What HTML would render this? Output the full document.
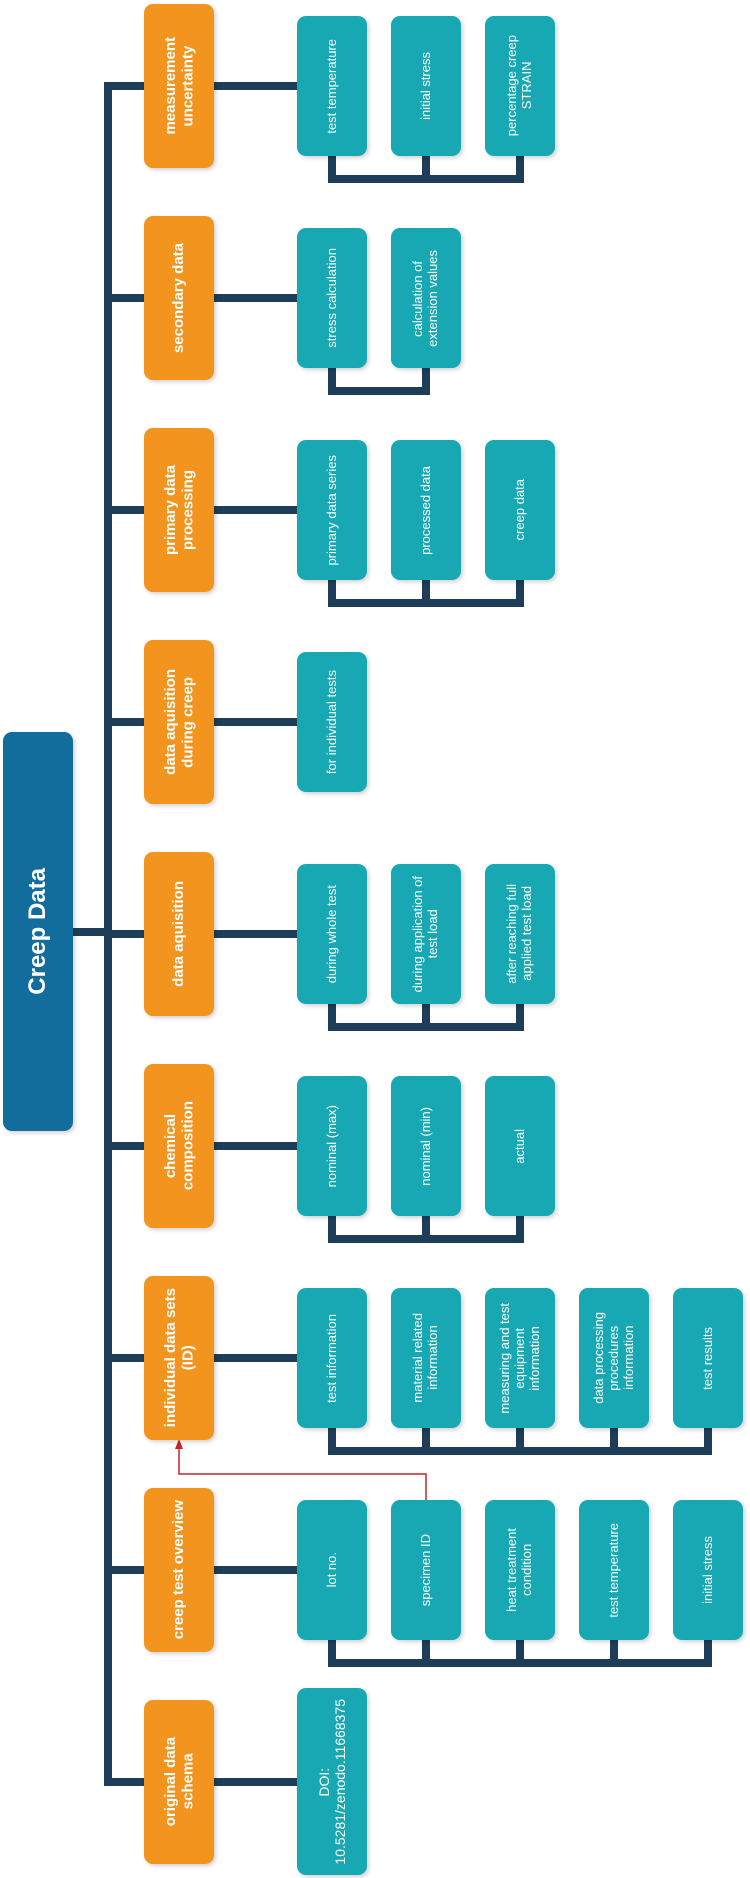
<!DOCTYPE html>
<html><head><meta charset="utf-8"><style>
body{margin:0;width:750px;height:1878px;position:relative;background:#fff;overflow:hidden;font-family:"Liberation Sans",Arial,sans-serif}
.b{position:absolute;display:flex;align-items:center;justify-content:center;color:#fff;border-radius:9px;box-shadow:2px 2px 4px rgba(0,0,0,.18)}
.b span{writing-mode:vertical-rl;transform:rotate(180deg);text-align:center;line-height:1.15}
.o{left:144px;width:70px;height:164px;background:#f3941f;font-weight:bold;font-size:15px}
.t{width:70px;height:140px;background:#17a8b4;font-size:13px}
.c1{left:297px}.c2{left:391px}.c3{left:485px}.c4{left:579px}.c5{left:673px}
</style></head><body>
<svg width="750" height="1878" style="position:absolute;left:0;top:0">
<g stroke="#1e3d59" stroke-width="8" fill="none">
<line x1="108" y1="82" x2="108" y2="1786"/>
<line x1="73" y1="932" x2="108" y2="932"/>
<!-- row connectors -->
<path d="M104 86H144M214 86H297"/>
<path d="M104 298H144M214 298H297"/>
<path d="M104 510H144M214 510H297"/>
<path d="M104 722H144M214 722H297"/>
<path d="M104 934H144M214 934H297"/>
<path d="M104 1146H144M214 1146H297"/>
<path d="M104 1358H144M214 1358H297"/>
<path d="M104 1570H144M214 1570H297"/>
<path d="M104 1782H144M214 1782H297"/>
<!-- buses -->
<path d="M332 152V179M426 152V179M520 152V179M328 179H524"/>
<path d="M332 364V391M426 364V391M328 391H430"/>
<path d="M332 576V603M426 576V603M520 576V603M328 603H524"/>
<path d="M332 1000V1027M426 1000V1027M520 1000V1027M328 1027H524"/>
<path d="M332 1212V1239M426 1212V1239M520 1212V1239M328 1239H524"/>
<path d="M332 1424V1451M426 1424V1451M520 1424V1451M614 1424V1451M708 1424V1451M328 1451H712"/>
<path d="M332 1636V1663M426 1636V1663M520 1636V1663M614 1636V1663M708 1636V1663M328 1663H712"/>
</g>
<path d="M426 1500V1474H179V1446" stroke="#c0282d" stroke-width="1.5" fill="none"/>
<polygon points="179,1439 175,1449 183,1449" fill="#d01f25"/>
</svg>

<div class="b" style="left:3px;top:732px;width:70px;height:399px;background:#136d9c;font-weight:bold;font-size:24px"><span>Creep Data</span></div>

<div class="b o" style="top:4px"><span>measurement<br>uncertainty</span></div>
<div class="b t c1" style="top:16px"><span>test temperature</span></div>
<div class="b t c2" style="top:16px"><span>initial stress</span></div>
<div class="b t c3" style="top:16px"><span>percentage creep<br>STRAIN</span></div>

<div class="b o" style="top:216px"><span>secondary data</span></div>
<div class="b t c1" style="top:228px"><span>stress calculation</span></div>
<div class="b t c2" style="top:228px"><span>calculation of<br>extension values</span></div>

<div class="b o" style="top:428px"><span>primary data<br>processing</span></div>
<div class="b t c1" style="top:440px"><span>primary data series</span></div>
<div class="b t c2" style="top:440px"><span>processed data</span></div>
<div class="b t c3" style="top:440px"><span>creep data</span></div>

<div class="b o" style="top:640px"><span>data aquisition<br>during creep</span></div>
<div class="b t c1" style="top:652px"><span>for individual tests</span></div>

<div class="b o" style="top:852px"><span>data aquisition</span></div>
<div class="b t c1" style="top:864px"><span>during whole test</span></div>
<div class="b t c2" style="top:864px"><span>during application of<br>test load</span></div>
<div class="b t c3" style="top:864px"><span>after reaching full<br>applied test load</span></div>

<div class="b o" style="top:1064px"><span>chemical<br>composition</span></div>
<div class="b t c1" style="top:1076px"><span>nominal (max)</span></div>
<div class="b t c2" style="top:1076px"><span>nominal (min)</span></div>
<div class="b t c3" style="top:1076px"><span>actual</span></div>

<div class="b o" style="top:1276px"><span>individual data sets<br>(ID)</span></div>
<div class="b t c1" style="top:1288px"><span>test information</span></div>
<div class="b t c2" style="top:1288px"><span>material related<br>information</span></div>
<div class="b t c3" style="top:1288px"><span>measuring and test<br>equipment<br>information</span></div>
<div class="b t c4" style="top:1288px"><span>data processing<br>procedures<br>information</span></div>
<div class="b t c5" style="top:1288px"><span>test results</span></div>

<div class="b o" style="top:1488px"><span>creep test overview</span></div>
<div class="b t c1" style="top:1500px"><span>lot no.</span></div>
<div class="b t c2" style="top:1500px"><span>specimen ID</span></div>
<div class="b t c3" style="top:1500px"><span>heat treatment<br>condition</span></div>
<div class="b t c4" style="top:1500px"><span>test temperature</span></div>
<div class="b t c5" style="top:1500px"><span>initial stress</span></div>

<div class="b o" style="top:1700px"><span>original data<br>schema</span></div>
<div class="b t c1" style="top:1688px;height:187px;font-size:14px"><span>DOI:<br>10.5281/zenodo.11668375</span></div>
</body></html>
